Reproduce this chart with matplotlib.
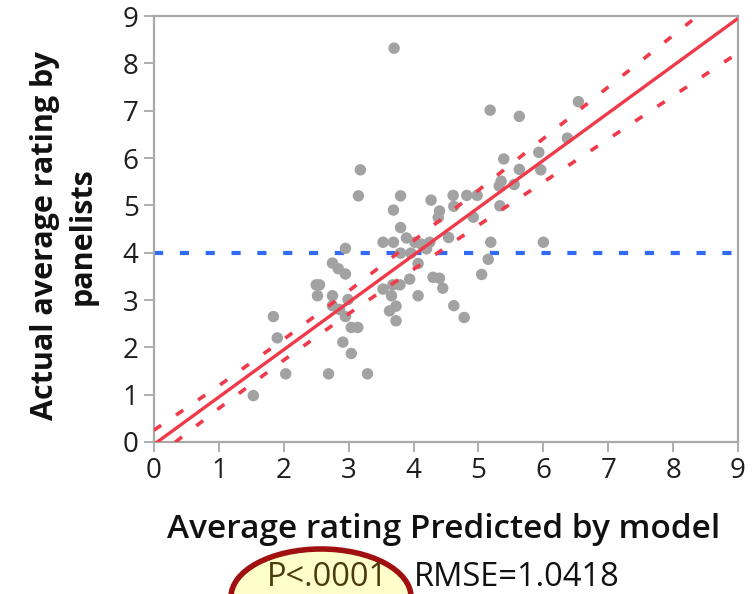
import matplotlib
matplotlib.use("Agg")
import matplotlib.pyplot as plt
from matplotlib.patches import Ellipse
import numpy as np

# ---- data ----
pred = [3.70, 3.18, 3.15, 3.80, 3.69, 4.27, 4.40, 4.38, 3.80, 4.61,
        4.82, 4.98, 4.62, 4.92, 5.18, 5.63, 6.54, 6.37, 5.93, 5.96,
        5.39, 5.63, 5.35, 5.32, 5.55, 5.33, 3.53, 3.69, 3.89, 4.02,
        4.12, 4.25, 4.20, 4.54, 3.80, 3.96, 2.95, 2.75, 2.84, 2.95,
        4.07, 4.30, 4.40, 4.45, 3.94, 3.68, 3.79, 3.53, 3.66, 4.07,
        3.63, 3.73, 3.73, 4.62, 4.78, 5.19, 6.00, 5.15, 5.05, 2.50,
        2.55, 2.52, 2.75, 2.75, 2.86, 2.99, 2.95, 3.04, 3.14, 2.91,
        3.04, 1.84, 1.90, 2.03, 1.53, 2.69, 3.29]
actual = [8.32, 5.75, 5.20, 5.20, 4.90, 5.11, 4.88, 4.74, 4.53, 5.21,
          5.21, 5.21, 4.98, 4.75, 7.01, 6.88, 7.19, 6.42, 6.12, 5.75,
          5.98, 5.76, 5.51, 5.41, 5.44, 4.99, 4.22, 4.22, 4.31, 4.22,
          4.18, 4.22, 4.08, 4.32, 3.99, 3.99, 4.09, 3.78, 3.66, 3.55,
          3.77, 3.48, 3.46, 3.25, 3.44, 3.32, 3.32, 3.23, 3.09, 3.09,
          2.77, 2.87, 2.56, 2.88, 2.63, 4.22, 4.22, 3.86, 3.54, 3.32,
          3.32, 3.09, 3.09, 2.88, 2.80, 3.01, 2.65, 2.42, 2.42, 2.11,
          1.87, 2.65, 2.20, 1.44, 0.98, 1.44, 1.44]

fit_intercept = -0.05
fit_slope = 1.0
mean_actual = 4.0
band_x = [0, 1, 2, 3, 4, 5, 6, 7, 8, 9]
band_half = [0.30, 0.24, 0.22, 0.24, 0.30, 0.37, 0.46, 0.55, 0.64, 0.73]

x_ticks = [0, 1, 2, 3, 4, 5, 6, 7, 8, 9]
y_ticks = [0, 1, 2, 3, 4, 5, 6, 7, 8, 9]
x_label = "Average rating Predicted by model"
y_label = "Actual average rating by\npanelists"
p_text = "P<.0001"
rmse_text = "RMSE=1.0418"

# ---- figure ----
plt.rcParams['font.family'] = ['Open Sans', 'DejaVu Sans']
W, H = 755, 594
fig = plt.figure(figsize=(W / 100, H / 100), dpi=100)
ax = fig.add_axes([154 / W, 1 - 442 / H, (738 - 154) / W, (442 - 16) / H])

red = '#F03A4A'
grey_frame = '#A8A8A8'

ax.scatter(pred, actual, s=68, color='#A2A2A2', edgecolors='none', zorder=3)

bx = np.array(band_x, dtype=float)
fit_y = fit_intercept + fit_slope * bx
ax.plot(bx, fit_y, color=red, lw=2.4, zorder=4, solid_capstyle='butt')
bh = np.array(band_half)
ax.plot(bx, fit_y + bh, color=red, lw=2.6, dashes=(2.4, 5.0), zorder=4)
ax.plot(bx, fit_y - bh, color=red, lw=2.6, dashes=(2.4, 5.0), zorder=4)
ax.axhline(mean_actual, color='#2F6BF5', lw=3.0, dashes=(2.2, 4.0), zorder=2)

ax.set_xlim(0, 9)
ax.set_ylim(0, 9)
ax.set_xticks(x_ticks)
ax.set_yticks(y_ticks)
ax.set_xticklabels([str(t) for t in x_ticks])
ax.set_yticklabels([str(t) for t in y_ticks])
for s in ax.spines.values():
    s.set_color(grey_frame)
    s.set_linewidth(1.6)
ax.tick_params(axis='both', direction='out', length=7, width=1.3,
               color=grey_frame, labelsize=20, labelcolor='#1E1E1E', pad=4)

fig.text(444 / W, 1 - 529 / H, x_label, ha='center', va='center',
         fontsize=24, fontweight='semibold', color='#111111')
fig.text(64 / W, 1 - 236 / H, y_label, ha='center', va='center',
         rotation=90, fontsize=22, fontweight='bold', color='#111111',
         linespacing=1.35, multialignment='center')

ell = Ellipse((321 / W, 1 - 597 / H), 180 / W, 96 / H,
              transform=fig.transFigure, facecolor='#FFFFCC',
              edgecolor='#A01010', lw=4.0, zorder=1, clip_on=False)
fig.add_artist(ell)
fig.text(327 / W, 1 - 577 / H, p_text, ha='center', va='center',
         fontsize=23.5, color='#4A3A10', zorder=5)
fig.text(517 / W, 1 - 577 / H, rmse_text, ha='center', va='center',
         fontsize=23.5, color='#111111', zorder=5)

fig.savefig('out.png', dpi=100)
